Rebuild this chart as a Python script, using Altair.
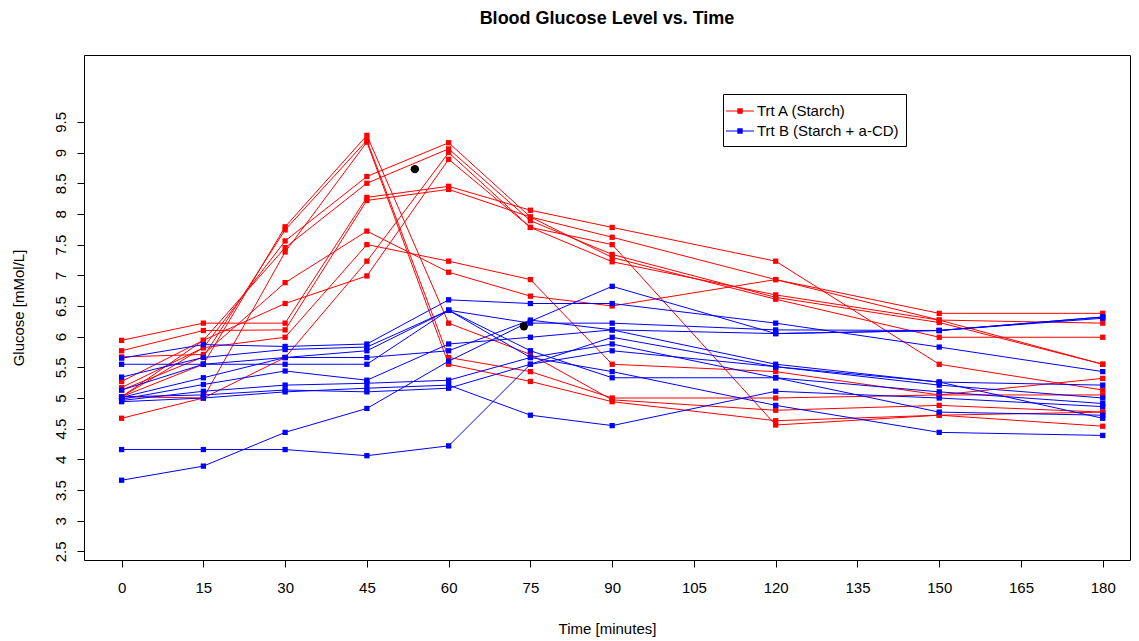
import altair as alt
import pandas as pd

# Sampling times (minutes)
times = [0, 15, 30, 45, 60, 75, 90, 120, 150, 180]

# Treatment A (Starch) - one list per subject, glucose in mMol/L
a01 = [5.02, 5.55, 7.79, 9.28, 6.22, 5.71, 4.97, 4.80, 4.88, 4.77]
a02 = [5.13, 5.67, 7.74, 9.20, 5.66, 5.43, 5.00, 5.00, 5.05, 5.05]
a03 = [5.02, 5.00, 7.38, 9.17, 5.55, 5.27, 4.94, 4.63, 4.72, 4.54]
a04 = [5.17, 5.82, 7.56, 8.61, 9.16, 7.95, 7.62, 6.93, 6.38, 6.38]
a05 = [5.27, 5.94, 7.45, 8.50, 9.06, 7.89, 7.34, 6.64, 6.23, 5.55]
a06 = [5.94, 6.22, 6.22, 8.27, 8.45, 8.06, 7.78, 7.23, 5.55, 5.13]
a07 = [5.77, 6.10, 6.11, 8.22, 8.40, 7.95, 7.29, 6.61, 5.99, 5.99]
a08 = [5.67, 5.71, 6.88, 7.72, 7.05, 6.66, 6.50, 6.93, 6.27, 6.22]
a09 = [5.02, 5.94, 6.54, 6.99, 8.89, 7.78, 7.22, 6.68, 6.27, 5.55]
a10 = [5.02, 5.82, 5.99, 7.50, 7.23, 6.93, 5.55, 5.43, 5.05, 5.32]
a11 = [4.67, 5.00, 5.66, 7.23, 9.00, 7.78, 7.50, 4.56, 4.72, 4.77]

# Treatment B (Starch + a-CD)
b01 = [3.66, 3.89, 4.44, 4.83, 5.60, 6.25, 6.82, 6.05, 6.10, 6.32]
b02 = [4.16, 4.16, 4.16, 4.06, 4.22, 5.55, 5.99, 5.51, 5.21, 5.00]
b03 = [5.55, 5.55, 5.55, 5.55, 6.43, 5.66, 5.43, 4.88, 4.44, 4.39]
b04 = [5.65, 5.87, 5.84, 5.88, 6.60, 6.54, 6.54, 6.22, 5.83, 5.43]
b05 = [5.34, 5.66, 5.79, 5.83, 6.43, 6.22, 6.22, 6.11, 6.10, 6.30]
b06 = [5.01, 5.33, 5.66, 5.77, 6.43, 5.77, 5.33, 5.33, 5.10, 4.91]
b07 = [4.98, 5.22, 5.44, 5.29, 5.88, 5.99, 6.11, 5.55, 5.26, 5.21]
b08 = [4.96, 5.11, 5.21, 5.24, 5.29, 5.66, 5.88, 5.33, 4.77, 4.72]
b09 = [4.94, 5.00, 5.10, 5.16, 5.21, 4.72, 4.55, 5.11, 5.00, 4.86]
b10 = [5.02, 5.05, 5.13, 5.10, 5.16, 5.55, 5.77, 5.51, 5.26, 4.67]
b11 = [5.13, 5.55, 5.66, 5.66, 5.77, 6.27, 6.11, 6.05, 6.10, 6.32]

# Two extra black points
dot_time = [53.8, 73.8]
dot_glucose = [8.73, 6.17]

label_a = "Trt A (Starch)"
label_b = "Trt B (Starch + a-CD)"

x_ticks = [0, 15, 30, 45, 60, 75, 90, 105, 120, 135, 150, 165, 180]
y_ticks = [2.5, 3, 3.5, 4, 4.5, 5, 5.5, 6, 6.5, 7, 7.5, 8, 8.5, 9, 9.5]

rows = []
for lab, prefix, subjects in [(label_a, "A", [a01, a02, a03, a04, a05, a06, a07, a08, a09, a10, a11]),
                              (label_b, "B", [b01, b02, b03, b04, b05, b06, b07, b08, b09, b10, b11])]:
    for i, s in enumerate(subjects):
        for t, v in zip(times, s):
            rows.append({"subject": f"{prefix}{i:02d}", "trt": lab, "time": t, "glucose": v})
df = pd.DataFrame(rows)
dots = pd.DataFrame({"time": dot_time, "glucose": dot_glucose})

FONT = "Liberation Sans"
NBSP = "\u00a0"

x_enc = alt.X(
    "time:Q",
    scale=alt.Scale(domain=[-6.9, 185.0], nice=False, zero=False),
    axis=alt.Axis(values=x_ticks, title="Time [minutes]", labelPadding=13,
                  titleX=523, titleY=68, titleBaseline="middle", titleAlign="center"),
)
y_enc = alt.Y(
    "glucose:Q",
    scale=alt.Scale(domain=[2.36, 10.59], nice=False, zero=False),
    axis=alt.Axis(values=y_ticks, format="~g", title="Glucose [mMol/L]",
                  labelAngle=270, labelAlign="center", labelBaseline="bottom", labelPadding=9,
                  titleAngle=270, titleX=-66, titleY=252.5, titleAlign="center", titleBaseline="middle"),
)

color_scale = alt.Scale(domain=[label_a, label_b], range=["#FF0000", "#0000FF"])

sym_path = ("M-1.4,-0.05 L1.4,-0.05 L1.4,0.05 L-1.4,0.05 Z "
            "M-0.27,-0.27 L0.27,-0.27 L0.27,0.27 L-0.27,0.27 Z")

lines = alt.Chart(df).mark_line(strokeWidth=1).encode(
    x=x_enc, y=y_enc,
    color=alt.Color("trt:N", scale=color_scale, legend=None),
    detail="subject:N",
    order="time:Q",
)

points = alt.Chart(df).mark_point(shape="square", filled=True, size=28, opacity=1).encode(
    x=x_enc, y=y_enc,
    color=alt.Color("trt:N", scale=color_scale,
                    legend=alt.Legend(title=None, orient="none", legendX=639, legendY=39,
                                      strokeColor="black", fillColor="white", padding=7,
                                      symbolType=sym_path, symbolSize=400, symbolStrokeWidth=0,
                                      labelFont=FONT, labelFontSize=15, labelColor="black",
                                      labelOffset=7, rowPadding=2, labelLimit=400,
                                      labelExpr="datum.label + '" + NBSP * 4 + "'")),
)

black = alt.Chart(dots).mark_circle(size=70, color="black", opacity=1).encode(x=x_enc, y=y_enc)

chart = alt.layer(lines, points, black).resolve_legend(color="independent").properties(
    width=1046,
    height=505,
    title=alt.TitleParams("Blood Glucose Level vs. Time", font=FONT, fontSize=18,
                          fontWeight="bold", anchor="middle", offset=27, color="black"),
    autosize=alt.AutoSizeParams(type="none"),
    padding={"left": 84, "top": 55, "right": 9, "bottom": 81},
    background="white",
).configure_axis(
    grid=False, domain=False, ticks=True, tickColor="black", tickSize=7, tickWidth=1,
    labelFont=FONT, labelFontSize=15, labelColor="black",
    titleFont=FONT, titleFontSize=15, titleFontWeight="normal", titleColor="black",
).configure_view(
    stroke="black", strokeWidth=1,
)

chart.save("out.html", embed_options={"renderer": "svg", "actions": False})
